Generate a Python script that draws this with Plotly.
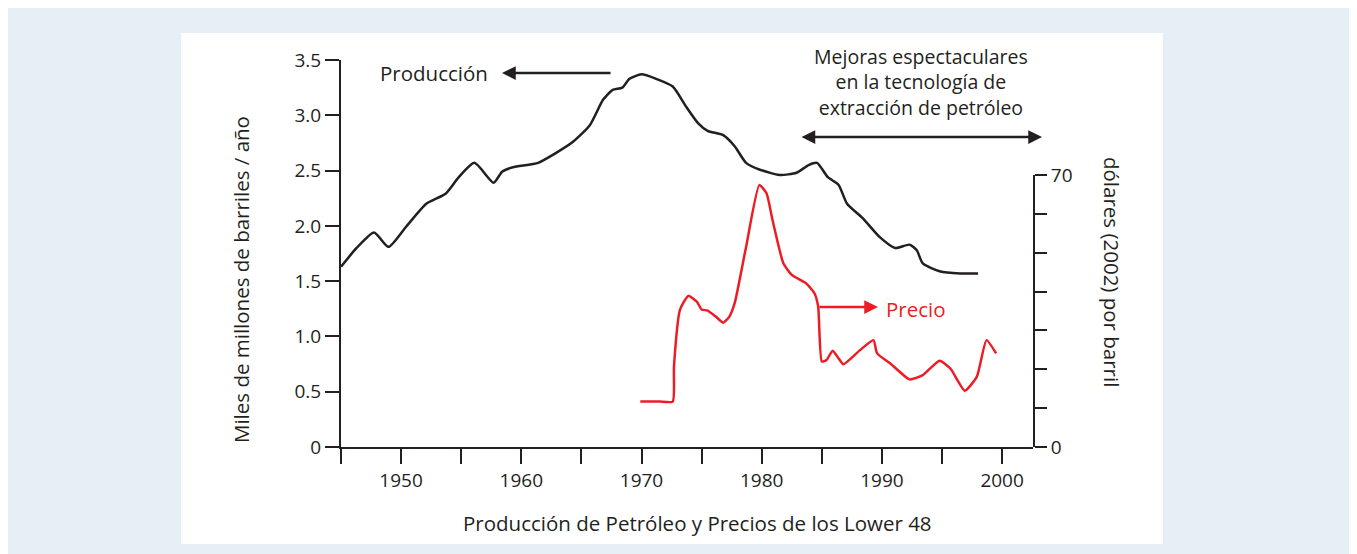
import plotly.graph_objects as go

# ---- data ----
prod_years = [1945.0, 1946.3, 1947.75, 1948.95, 1950.4, 1952.1, 1953.7, 1954.8, 1956.1, 1957.7,
              1958.4, 1959.3, 1961.4, 1962.9, 1964.3, 1965.7, 1966.8, 1967.6, 1968.4, 1969.0,
              1970.0, 1971.2, 1972.6, 1973.7, 1974.7, 1975.5, 1976.8, 1977.75, 1978.7, 1979.8,
              1981.5, 1982.9, 1983.9, 1984.6, 1985.5, 1986.4, 1987.1, 1988.4, 1989.8, 1991.1,
              1992.3, 1992.9, 1993.4, 1994.8, 1996.5, 1998.0]
prod_values = [1.63, 1.80, 1.94, 1.81, 1.99, 2.20, 2.29, 2.44, 2.57, 2.39,
               2.49, 2.53, 2.57, 2.66, 2.76, 2.91, 3.14, 3.23, 3.25, 3.33,
               3.37, 3.33, 3.26, 3.08, 2.93, 2.86, 2.82, 2.72, 2.57, 2.51,
               2.46, 2.48, 2.55, 2.57, 2.44, 2.37, 2.20, 2.07, 1.90, 1.80,
               1.83, 1.78, 1.66, 1.59, 1.57, 1.57]

price_years = [1969.9, 1971.5, 1972.6, 1972.7, 1973.2, 1973.9, 1974.6, 1975.0, 1975.5, 1976.2,
               1976.8, 1977.3, 1977.75, 1978.7, 1979.8, 1980.4, 1980.9, 1981.8, 1982.5, 1983.7,
               1984.4, 1984.7, 1985.0, 1985.4, 1985.9, 1986.4, 1986.8, 1988.2, 1989.3, 1989.6,
               1990.7, 1992.3, 1993.4, 1994.8, 1995.7, 1996.9, 1997.9, 1998.7, 1999.5]
price_values = [11.7, 11.7, 11.7, 20.7, 35.3, 38.9, 37.4, 35.4, 35.1, 33.5,
                32.0, 33.5, 37.0, 51.5, 67.4, 65.3, 58.4, 47.3, 44.3, 42.1,
                39.5, 36.1, 22.0, 22.4, 24.8, 22.8, 21.3, 25.0, 27.5, 24.1,
                21.5, 17.4, 18.5, 22.2, 20.2, 14.5, 18.1, 27.5, 24.1]

x_tickvals = [1945, 1950, 1955, 1960, 1965, 1970, 1975, 1980, 1985, 1990, 1995, 2000]
x_ticktext = ["", "1950", "", "1960", "", "1970", "", "1980", "", "1990", "", "2000"]
y_tickvals = [0, 0.5, 1.0, 1.5, 2.0, 2.5, 3.0, 3.5]
y_ticktext = ["0", "0.5", "1.0", "1.5", "2.0", "2.5", "3.0", "3.5"]
y2_tickvals = [0, 10, 20, 30, 40, 50, 60, 70]
y2_ticktext = ["0", "", "", "", "", "", "", "70"]

INK = "#231f20"
RED = "#ed1c24"
BLUE = "#e6eef6"
FONT = "Open Sans"

fig = go.Figure()
fig.add_trace(go.Scatter(x=prod_years, y=prod_values, mode="lines",
                         line=dict(color=INK, width=2.5, shape="spline", smoothing=0.6),
                         yaxis="y", hoverinfo="skip"))
fig.add_trace(go.Scatter(x=price_years, y=price_values, mode="lines",
                         line=dict(color=RED, width=2.5, shape="spline", smoothing=0.5),
                         yaxis="y2", hoverinfo="skip"))

PX0, PX1, PY0, PY1 = 341, 1033, 447, 60  # page pixels of plot area


def px(x):
    return (x - PX0) / (PX1 - PX0)


def py(y):
    return (PY0 - y) / (PY0 - PY1)


axis_common = dict(showline=True, linecolor=INK, linewidth=2, ticks="outside",
                   tickcolor=INK, tickwidth=2, showgrid=False, zeroline=False,
                   tickfont=dict(family=FONT, size=19, color=INK))

fig.update_layout(
    width=1341, height=546,
    margin=dict(l=333, r=316, t=52, b=107, pad=0),
    paper_bgcolor=BLUE, plot_bgcolor="rgba(0,0,0,0)",
    showlegend=False,
    xaxis=dict(range=[1945, 2002.57], tickvals=x_tickvals, ticktext=x_ticktext,
               ticklen=15, **axis_common),
    yaxis=dict(range=[0, 3.5], tickvals=y_tickvals, ticktext=y_ticktext,
               ticklen=14, **axis_common),
    yaxis2=dict(range=[0, 70], domain=[0, py(175)], anchor="x", side="right",
                tickvals=y2_tickvals, ticktext=y2_ticktext, ticklen=12, **axis_common),
    shapes=[dict(type="rect", xref="paper", yref="paper",
                 x0=px(181), x1=px(1163), y0=py(544), y1=py(33),
                 fillcolor="white", line=dict(width=0), layer="below")],
)

TS = 20.5
txt = dict(family=FONT, size=TS, color=INK)
ann = []
ann.append(dict(xref="paper", yref="paper", x=px(434), y=py(73), text="Producción",
                showarrow=False, font=txt, xanchor="center", yanchor="middle"))
ann.append(dict(xref="paper", yref="paper", x=px(502), y=py(73), ax=110, ay=0,
                axref="pixel", ayref="pixel", text="", showarrow=True, arrowhead=2,
                arrowsize=1.1, arrowwidth=2.5, arrowcolor=INK, standoff=0))
ann.append(dict(xref="paper", yref="paper", x=px(884), y=py(309), text="Precio",
                showarrow=False, font=dict(family=FONT, size=TS, color=RED),
                xanchor="left", yanchor="middle"))
ann.append(dict(xref="paper", yref="paper", x=px(878), y=py(307), ax=-60, ay=0,
                axref="pixel", ayref="pixel", text="", showarrow=True, arrowhead=2,
                arrowsize=1.1, arrowwidth=2.5, arrowcolor=RED, standoff=0))
ann.append(dict(xref="paper", yref="paper", x=px(921), y=py(82),
                text="Mejoras espectaculares<br>en la tecnología de<br>extracción de petróleo",
                showarrow=False, font=dict(family=FONT, size=19.5, color=INK),
                align="center", xanchor="center", yanchor="middle"))
ann.append(dict(xref="paper", yref="paper", x=px(1042), y=py(137), ax=-242, ay=0,
                axref="pixel", ayref="pixel", text="", showarrow=True, arrowhead=2,
                arrowside="end+start", arrowsize=1.1, arrowwidth=2.5, arrowcolor=INK,
                standoff=0, startstandoff=0))
ann.append(dict(xref="paper", yref="paper", x=px(241), y=py(280),
                text="Miles de millones de barriles / año", textangle=-90,
                showarrow=False, font=txt, xanchor="center", yanchor="middle"))
ann.append(dict(xref="paper", yref="paper", x=px(1112), y=py(272),
                text="dólares (2002) por barril", textangle=90,
                showarrow=False, font=txt, xanchor="center", yanchor="middle"))
ann.append(dict(xref="paper", yref="paper", x=px(697), y=py(523),
                text="Producción de Petróleo y Precios de los Lower 48",
                showarrow=False, font=txt, xanchor="center", yanchor="middle"))
fig.update_layout(annotations=ann)

fig.write_html("out.html")
